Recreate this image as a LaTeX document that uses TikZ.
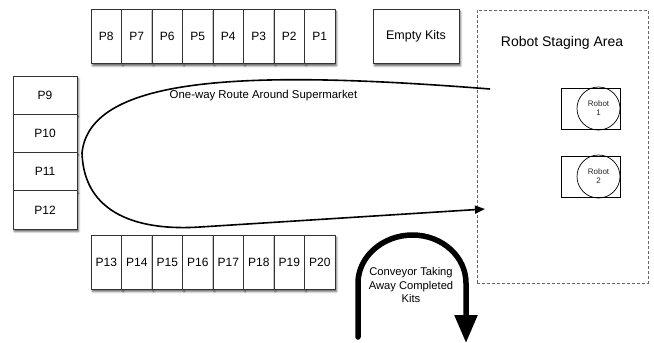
\documentclass[tikz,border=0pt]{standalone}
\usepackage{fontspec}
\setmainfont{Liberation Sans}
\usetikzlibrary{arrows.meta,shadows.blur}
\begin{document}
\begin{tikzpicture}[x=1pt,y=-1pt,
  shad/.style={blur shadow={shadow xshift=1.5pt, shadow yshift=-2.5pt, shadow blur radius=2pt, shadow opacity=65}},
  cell/.style={draw=black!80, line width=0.9pt, fill=white, minimum width=30.5pt, minimum height=54pt, inner sep=0pt, font=\fontsize{12}{14}\selectfont, shad},
  colcell/.style={cell, minimum width=64pt, minimum height=38.25pt},
  route/.style={line width=1.6pt, -{Triangle[length=10pt,width=8pt]}},
  conv/.style={line width=5.5pt, line cap=round, -{Triangle[length=28pt,width=22pt]}},
  robotbox/.style={draw, line width=0.7pt, minimum width=59pt, minimum height=41pt, inner sep=0pt},
  robot/.style={draw, circle, line width=0.7pt, minimum size=43pt, inner sep=0pt, align=center, font=\fontsize{8}{9}\selectfont, text=black!85}
]
\useasboundingbox (0,0) rectangle (654,343);
% top row
\foreach \lab [count=\i from 0] in {8,7,6,5,4,3,2,1}
  \node[cell] (p\lab) at ({106.25+30.5*\i},36.3) {P\lab};
% bottom row
\foreach \lab [count=\i from 0] in {13,14,15,16,17,18,19,20}
  \node[cell] (p\lab) at ({106.25+30.5*\i},262) {P\lab};
% left column
\foreach \lab [count=\i from 0] in {9,10,11,12}
  \node[colcell] (p\lab) at (45,{95.1+38.25*\i}) {P\lab};
% empty kits
\node[cell, minimum width=86pt, font=\fontsize{12.5}{14}\selectfont] (kits) at (416,36.3) {Empty Kits};
% staging area
\node[draw=black!60, dash pattern=on 3pt off 2pt, line width=0.8pt, minimum width=171pt, minimum height=273pt, inner sep=0pt] (stage) at (562.5,146.5) {};
\node[font=\fontsize{14}{16}\selectfont] (stagelbl) at (562,43) {Robot Staging Area};
% robots
\node[robotbox] (r1box) at (590.5,108.5) {};
\node[robot] (r1) at (598.5,108.5) {Robot\\1};
\node[robotbox] (r2box) at (590.5,176.5) {};
\node[robot] (r2) at (598.5,176.5) {Robot\\2};
% route
\coordinate (rs) at (490,89);
\coordinate (rl) at (82,153);
\coordinate (rb) at (200,227);
\coordinate (re) at (485,209);
\draw[route] (rs) .. controls (250,70) and (90,75) .. (rl) .. controls (84,215) and (140,231) .. (rb) -- (re);
\node[font=\fontsize{11.4}{13}\selectfont] (routelbl) at (263.5,96) {One-way Route Around Supermarket};
% conveyor
\coordinate (cs) at (358,337);
\coordinate (ct) at (412.5,235);
\coordinate (ce) at (466,343);
\draw[conv] (cs) -- (358,283) .. controls (358,257) and (382.5,235) .. (ct) .. controls (442.5,235) and (466,257) .. (466,283) -- (ce);
\node[align=center, font=\fontsize{11.2}{13.3}\selectfont] (convlbl) at (411,285) {Conveyor Taking\\Away Completed\\Kits};
\end{tikzpicture}
\end{document}
